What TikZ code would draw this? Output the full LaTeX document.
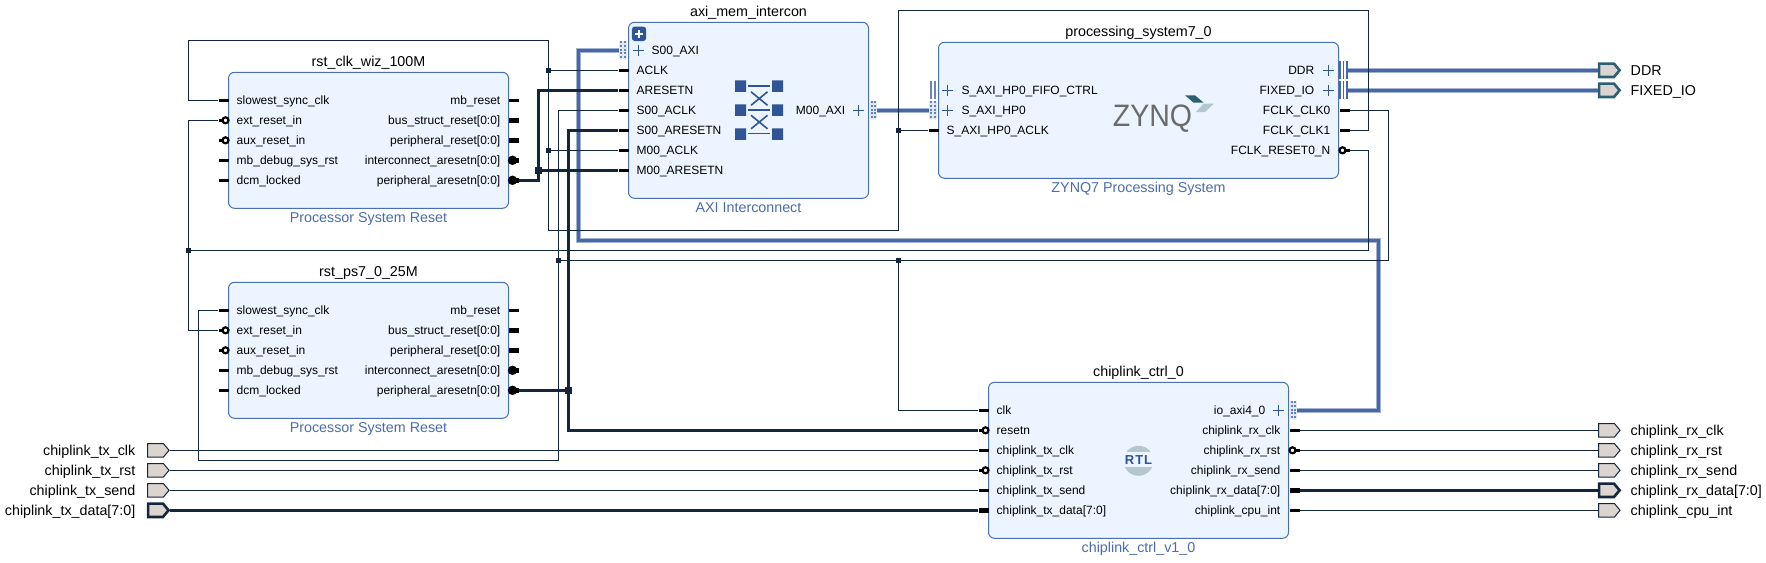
\documentclass[tikz,border=0pt]{standalone}
\usepackage{fontspec}
\setmainfont{Liberation Sans}
\usetikzlibrary{shapes.symbols}
\definecolor{wirec}{HTML}{14263E}
\definecolor{buscol}{HTML}{4668A8}
\definecolor{busfade}{HTML}{A3B3D2}
\definecolor{dotc}{HTML}{5F82C0}
\definecolor{blockfill}{HTML}{ECF4FF}
\definecolor{blockedge}{HTML}{4A6FB0}
\definecolor{vlnvc}{HTML}{4A6CAD}
\definecolor{iconc}{HTML}{2F5597}
\definecolor{portfill}{HTML}{DCD4CF}
\definecolor{tealc}{HTML}{2B6074}
\tikzset{
  ipblock/.style={draw=blockedge,fill=blockfill,line width=1pt,rounded corners=6pt,inner sep=0pt},
  ipname/.style={inner sep=0pt,text height=10.2pt,text depth=0pt,font=\fontsize{14.3}{16}\selectfont},
  vlnv/.style={ipname,text=vlnvc},
  ltxt/.style={inner sep=0pt,anchor=west,text height=8.6pt,text depth=0pt,font=\fontsize{12}{14}\selectfont},
  rtxt/.style={ltxt,anchor=east},
  extl/.style={ipname,anchor=west},
  extr/.style={ipname,anchor=east},
  stub/.style={fill=black,inner sep=0pt,minimum width=10pt,minimum height=3pt},
  stubw/.style={stub,minimum height=5pt},
  ringn/.style={circle,draw=black,fill=white,line width=2.2pt,inner sep=0pt,minimum size=6pt},
  dotn/.style={circle,fill=black,inner sep=0pt,minimum size=9.5pt},
  junc/.style={fill=wirec,inner sep=0pt,minimum size=5pt},
  juncw/.style={junc,minimum size=7pt},
  wire/.style={draw=wirec,line width=1.2pt},
  wirew/.style={draw=wirec,line width=3.2pt},
  buswire/.style={draw=buscol,line width=3pt,preaction={draw=busfade,line width=4.8pt}},
  extport/.style={signal,signal to=east,signal pointer angle=100,draw=wirec,fill=portfill,line width=1pt,inner sep=0pt,minimum width=21.5pt,minimum height=13.4pt},
  extportw/.style={extport,line width=2.6pt,minimum width=20.5pt,minimum height=13.4pt},
  extportb/.style={extportw,draw=tealc},
  busdot/.style={fill=busfade!30,inner sep=0pt,minimum width=7.5pt,minimum height=18pt,path picture={
    \draw[dotc,line width=2pt,dash pattern=on 2pt off 1.6pt] ([xshift=-1.9pt]path picture bounding box.north) -- ([xshift=-1.9pt]path picture bounding box.south);
    \draw[dotc,line width=2pt,dash pattern=on 2pt off 1.6pt] ([xshift=1.9pt]path picture bounding box.north) -- ([xshift=1.9pt]path picture bounding box.south);}},
  busbar/.style={inner sep=0pt,minimum width=9pt,minimum height=18pt,path picture={
    \draw[buscol,line width=1.7pt] ([xshift=-3.6pt]path picture bounding box.north) -- ([xshift=-3.6pt]path picture bounding box.south);
    \draw[buscol,line width=1.7pt] (path picture bounding box.north) -- (path picture bounding box.south);
    \draw[buscol,line width=1.7pt] ([xshift=3.6pt]path picture bounding box.north) -- ([xshift=3.6pt]path picture bounding box.south);}},
  busbartwo/.style={inner sep=0pt,minimum width=8pt,minimum height=18pt,path picture={
    \draw[buscol!80,line width=2.2pt] ([xshift=-2pt]path picture bounding box.north) -- ([xshift=-2pt]path picture bounding box.south);
    \draw[buscol!80,line width=2.2pt] ([xshift=2pt]path picture bounding box.north) -- ([xshift=2pt]path picture bounding box.south);}},
  expbtn/.style={fill=iconc,rounded corners=3pt,inner sep=0pt,minimum size=14.4pt},
  plusmark/.pic={\draw[iconc,line width=1pt] (-5.5,0) -- (5.5,0) (0,-5.5) -- (0,5.5);},
  plusbtn/.pic={\draw[white,line width=2.1pt] (-4,0) -- (4,0) (0,-4) -- (0,4);}
}
\begin{document}
\begin{tikzpicture}[x=1pt,y=-1pt,xshift=.5pt,yshift=-.3pt]
\useasboundingbox (-.5,-.3) rectangle (1765.5,561.7);

\node[ipblock,minimum width=280pt,minimum height=136pt] (rstclk) at (368,140) {};
\node[ipname] (rstclkname) at (368,61) {rst\_clk\_wiz\_100M};
\node[vlnv] (rstclkvlnv) at (368,217.5) {Processor System Reset};
\node[ipblock,minimum width=280pt,minimum height=136pt] (rstps) at (368,350) {};
\node[ipname] (rstpsname) at (368,271) {rst\_ps7\_0\_25M};
\node[vlnv] (rstpsvlnv) at (368,427.5) {Processor System Reset};
\node[ipblock,minimum width=240pt,minimum height=176pt] (axi) at (748,110) {};
\node[ipname] (axiname) at (748,11) {axi\_mem\_intercon};
\node[vlnv] (axivlnv) at (748,207.5) {AXI Interconnect};
\node[ipblock,minimum width=400pt,minimum height=136pt] (ps) at (1138,110) {};
\node[ipname] (psname) at (1138,31) {processing\_system7\_0};
\node[vlnv] (psvlnv) at (1138,187.5) {ZYNQ7 Processing System};
\node[ipblock,minimum width=300pt,minimum height=156pt] (chip) at (1138,460) {};
\node[ipname] (chipname) at (1138,371) {chiplink\_ctrl\_0};
\node[vlnv] (chipvlnv) at (1138,547.5) {chiplink\_ctrl\_v1\_0};

\node[stub] (clkslow) at (223,100) {};
\node[stub] (clkext) at (223,120) {};
\node[stub] (clkaux) at (223,140) {};
\node[stub] (clkdbg) at (223,160) {};
\node[stub] (clkdcm) at (223,180) {};
\node[ringn] (clkextr) at (225,120) {};
\node[ringn] (clkauxr) at (225,140) {};
\node[stub] (clkmb) at (513,100) {};
\node[stubw] (clkbus) at (513,120) {};
\node[stubw] (clkper) at (513,140) {};
\node[stubw] (clkint) at (513,160) {};
\node[stubw] (clkpar) at (513,180) {};
\node[dotn] (clkintd) at (512,160) {};
\node[dotn] (clkpard) at (512,180) {};
\node[ltxt] (clkslowt) at (236,100) {slowest\_sync\_clk};
\node[ltxt] (clkextt) at (236,120) {ext\_reset\_in};
\node[ltxt] (clkauxt) at (236,140) {aux\_reset\_in};
\node[ltxt] (clkdbgt) at (236,160) {mb\_debug\_sys\_rst};
\node[ltxt] (clkdcmt) at (236,180) {dcm\_locked};
\node[rtxt] (clkmbt) at (500,100) {mb\_reset};
\node[rtxt] (clkbust) at (500,120) {bus\_struct\_reset[0:0]};
\node[rtxt] (clkpert) at (500,140) {peripheral\_reset[0:0]};
\node[rtxt] (clkintt) at (500,160) {interconnect\_aresetn[0:0]};
\node[rtxt] (clkpart) at (500,180) {peripheral\_aresetn[0:0]};

\node[stub] (psslow) at (223,310) {};
\node[stub] (psext) at (223,330) {};
\node[stub] (psaux) at (223,350) {};
\node[stub] (psdbg) at (223,370) {};
\node[stub] (psdcm) at (223,390) {};
\node[ringn] (psextr) at (225,330) {};
\node[ringn] (psauxr) at (225,350) {};
\node[stub] (psmb) at (513,310) {};
\node[stubw] (psbus) at (513,330) {};
\node[stubw] (psper) at (513,350) {};
\node[stubw] (psint) at (513,370) {};
\node[stubw] (pspar) at (513,390) {};
\node[dotn] (psintd) at (512,370) {};
\node[dotn] (pspard) at (512,390) {};
\node[ltxt] (psslowt) at (236,310) {slowest\_sync\_clk};
\node[ltxt] (psextt) at (236,330) {ext\_reset\_in};
\node[ltxt] (psauxt) at (236,350) {aux\_reset\_in};
\node[ltxt] (psdbgt) at (236,370) {mb\_debug\_sys\_rst};
\node[ltxt] (psdcmt) at (236,390) {dcm\_locked};
\node[rtxt] (psmbt) at (500,310) {mb\_reset};
\node[rtxt] (psbust) at (500,330) {bus\_struct\_reset[0:0]};
\node[rtxt] (pspert) at (500,350) {peripheral\_reset[0:0]};
\node[rtxt] (psintt) at (500,370) {interconnect\_aresetn[0:0]};
\node[rtxt] (pspart) at (500,390) {peripheral\_aresetn[0:0]};

\node[busdot] (axis00) at (622.5,50) {};
\node[stub] (axiaclk) at (623,70) {};
\node[stub] (axiarst) at (623,90) {};
\node[stub] (axis00clk) at (623,110) {};
\node[stub] (axis00rst) at (623,130) {};
\node[stub] (aximclk) at (623,150) {};
\node[stub] (aximrst) at (623,170) {};
\node[busdot] (axim00) at (873,110) {};
\node[expbtn] (axiexp) at (638.5,33.5) {};
\pic at (638.5,33.5) {plusbtn};
\pic at (637.5,50) {plusmark};
\pic at (858,110) {plusmark};
\node[ltxt] (axis00t) at (651,50) {S00\_AXI};
\node[ltxt] (axiaclkt) at (636,70) {ACLK};
\node[ltxt] (axiarstt) at (636,90) {ARESETN};
\node[ltxt] (axis00clkt) at (636,110) {S00\_ACLK};
\node[ltxt] (axis00rstt) at (636,130) {S00\_ARESETN};
\node[ltxt] (aximclkt) at (636,150) {M00\_ACLK};
\node[ltxt] (aximrstt) at (636,170) {M00\_ARESETN};
\node[rtxt] (axim00t) at (845,110) {M00\_AXI};

\fill[iconc] (734.5,80) rectangle (745.5,91.5) (771.5,80) rectangle (782.5,91.5);
\fill[iconc] (734.5,104) rectangle (745.5,115.5) (771.5,104) rectangle (782.5,115.5);
\fill[iconc] (734.5,128) rectangle (745.5,139.5) (771.5,128) rectangle (782.5,139.5);
\draw[iconc,line width=1.6pt] (747.5,85.7) -- (769.5,85.7) (747.5,109.5) -- (769.5,109.5) (747.5,133.3) -- (769.5,133.3);
\draw[iconc,line width=1.6pt] (750.5,91.5) -- (767,105) (767,91.5) -- (750.5,105);
\draw[iconc,line width=1.6pt] (750.5,115) -- (767,128.5) (767,115) -- (750.5,128.5);

\node[busbartwo] (psfifo) at (932.5,90) {};
\node[busdot] (pshp) at (932.5,110) {};
\node[stub] (pshpclk) at (933,130) {};
\pic at (947,90) {plusmark};
\pic at (947,110) {plusmark};
\node[ltxt] (psfifot) at (961,90) {S\_AXI\_HP0\_FIFO\_CTRL};
\node[ltxt] (pshpt) at (961,110) {S\_AXI\_HP0};
\node[ltxt] (pshpclkt) at (946,130) {S\_AXI\_HP0\_ACLK};
\node[busbar] (psddr) at (1343,70) {};
\node[busbar] (psfix) at (1343,90) {};
\node[stub] (psclk0) at (1344,110) {};
\node[stub] (psclk1) at (1344,130) {};
\node[stub] (psrst) at (1344,150) {};
\node[ringn] (psrstr) at (1342,150) {};
\pic at (1328,70) {plusmark};
\pic at (1328,90) {plusmark};
\node[rtxt] (psddrt) at (1314,70) {DDR};
\node[rtxt] (psfixt) at (1314,90) {FIXED\_IO};
\node[rtxt] (psclk0t) at (1330,110) {FCLK\_CLK0};
\node[rtxt] (psclk1t) at (1330,130) {FCLK\_CLK1};
\node[rtxt] (psrstt) at (1330,150) {FCLK\_RESET0\_N};

\node[xscale=.92,transform shape,inner sep=0pt,text height=22.4pt,text depth=0pt,text=black!58,font=\fontsize{31}{33}\selectfont] (zynq) at (1152,114.5) {ZYNQ};
\fill[tealc] (1184.5,95) -- (1194.5,95) -- (1203,102.3) -- (1193,102.3) -- cycle;
\fill[tealc!35] (1203,103.3) -- (1213.5,103.3) -- (1204.5,111.7) -- (1195.5,111.7) -- cycle;

\node[stub] (chipclk) at (983,410) {};
\node[stub] (chiprst) at (983,430) {};
\node[stub] (chiptxclk) at (983,450) {};
\node[stub] (chiptxrst) at (983,470) {};
\node[stub] (chiptxsend) at (983,490) {};
\node[stubw] (chiptxdata) at (983,510) {};
\node[ringn] (chiprstr) at (985,430) {};
\node[ringn] (chiptxrstr) at (985,470) {};
\node[busdot] (chipaxi) at (1293,410) {};
\node[stub] (chiprxclk) at (1294,430) {};
\node[stub] (chiprxrst) at (1294,450) {};
\node[stub] (chiprxsend) at (1294,470) {};
\node[stubw] (chiprxdata) at (1294,490) {};
\node[stub] (chipint) at (1294,510) {};
\node[ringn] (chiprxrstr) at (1292,450) {};
\pic at (1278,410) {plusmark};
\node[ltxt] (chipclkt) at (996,410) {clk};
\node[ltxt] (chiprstt) at (996,430) {resetn};
\node[ltxt] (chiptxclkt) at (996,450) {chiplink\_tx\_clk};
\node[ltxt] (chiptxrstt) at (996,470) {chiplink\_tx\_rst};
\node[ltxt] (chiptxsendt) at (996,490) {chiplink\_tx\_send};
\node[ltxt] (chiptxdatat) at (996,510) {chiplink\_tx\_data[7:0]};
\node[rtxt] (chipaxit) at (1265,410) {io\_axi4\_0};
\node[rtxt] (chiprxclkt) at (1280,430) {chiplink\_rx\_clk};
\node[rtxt] (chiprxrstt) at (1280,450) {chiplink\_rx\_rst};
\node[rtxt] (chiprxsendt) at (1280,470) {chiplink\_rx\_send};
\node[rtxt] (chiprxdatat) at (1280,490) {chiplink\_rx\_data[7:0]};
\node[rtxt] (chipintt) at (1280,510) {chiplink\_cpu\_int};

\fill[tealc!35] (1138,460.5) circle (15);
\fill[blockfill] (1120,452) rectangle (1156,467);
\node[inner sep=0pt,text height=9.3pt,text depth=0pt,text=iconc,font=\bfseries\fontsize{13}{15}\selectfont\addfontfeature{LetterSpace=7}] (rtl) at (1138,460) {RTL};

\node[extport] (txclk) at (155,450) {};
\node[extport] (txrst) at (155,470) {};
\node[extport] (txsend) at (155,490) {};
\node[extportw] (txdata) at (155,510) {};
\node[extr] (txclkt) at (135,450) {chiplink\_tx\_clk};
\node[extr] (txrstt) at (135,470) {chiplink\_tx\_rst};
\node[extr] (txsendt) at (135,490) {chiplink\_tx\_send};
\node[extr] (txdatat) at (135,510) {chiplink\_tx\_data[7:0]};
\node[extportb] (ddr) at (1606,70) {};
\node[extportb] (fixio) at (1606,90) {};
\node[extport] (rxclk) at (1606,430) {};
\node[extport] (rxrst) at (1606,450) {};
\node[extport] (rxsend) at (1606,470) {};
\node[extportw] (rxdata) at (1606,490) {};
\node[extport] (cpuint) at (1606,510) {};
\node[extl] (ddrt) at (1630,70) {DDR};
\node[extl] (fixiot) at (1630,90) {FIXED\_IO};
\node[extl] (rxclkt) at (1630,430) {chiplink\_rx\_clk};
\node[extl] (rxrstt) at (1630,450) {chiplink\_rx\_rst};
\node[extl] (rxsendt) at (1630,470) {chiplink\_rx\_send};
\node[extl] (rxdatat) at (1630,490) {chiplink\_rx\_data[7:0]};
\node[extl] (cpuintt) at (1630,510) {chiplink\_cpu\_int};

\draw[buswire] (axim00.east) -- (pshp.west);
\draw[buswire] (psddr.east) -- (ddr.west);
\draw[buswire] (psfix.east) -- (fixio.west);
\draw[buswire] (chipaxi.east) -| (1378,240) -- (578,240) |- (axis00.west);

\node[junc] (jaclk) at (548,70) {};
\node[junc] (jmclk) at (548,150) {};
\node[junc] (jhpclk) at (898,130) {};
\node[junc] (js00clk) at (558,260) {};
\node[junc] (jchipclk) at (898,260) {};
\node[junc] (jext) at (188,250) {};
\node[juncw] (jmrst) at (538,170) {};
\node[juncw] (jsrst) at (568,390) {};

\draw[wire] (psclk1.east) -| (1368,10) -| (jhpclk) |- (548,230) -- (jmclk) -- (jaclk) |- (188,40) |- (clkslow.west);
\draw[wire] (jaclk) -- (axiaclk.west);
\draw[wire] (jmclk) -- (aximclk.west);
\draw[wire] (jhpclk) -- (pshpclk.west);
\draw[wire] (psclk0.east) -| (1388,260) -- (jchipclk) -- (js00clk);
\draw[wire] (js00clk) |- (axis00clk.west);
\draw[wire] (js00clk) |- (198,460) |- (psslow.west);
\draw[wire] (jchipclk) |- (chipclk.west);
\draw[wire] (psrst.east) -| (1368,250) -- (jext);
\draw[wire] (jext) |- (clkext.west);
\draw[wire] (jext) |- (psext.west);
\draw[wirew] (clkpar.east) -| (jmrst);
\draw[wirew] (jmrst) |- (axiarst.west);
\draw[wirew] (jmrst) -- (aximrst.west);
\draw[wirew] (pspar.east) -- (jsrst);
\draw[wirew] (jsrst) |- (axis00rst.west);
\draw[wirew] (jsrst) |- (chiprst.west);

\draw[wire] (txclk.east) -- (chiptxclk.west);
\draw[wire] (txrst.east) -- (chiptxrst.west);
\draw[wire] (txsend.east) -- (chiptxsend.west);
\draw[wirew] (txdata.east) -- (chiptxdata.west);
\draw[wire] (chiprxclk.east) -- (rxclk.west);
\draw[wire] (chiprxrst.east) -- (rxrst.west);
\draw[wire] (chiprxsend.east) -- (rxsend.west);
\draw[wirew] (chiprxdata.east) -- (rxdata.west);
\draw[wire] (chipint.east) -- (cpuint.west);
\end{tikzpicture}
\end{document}
